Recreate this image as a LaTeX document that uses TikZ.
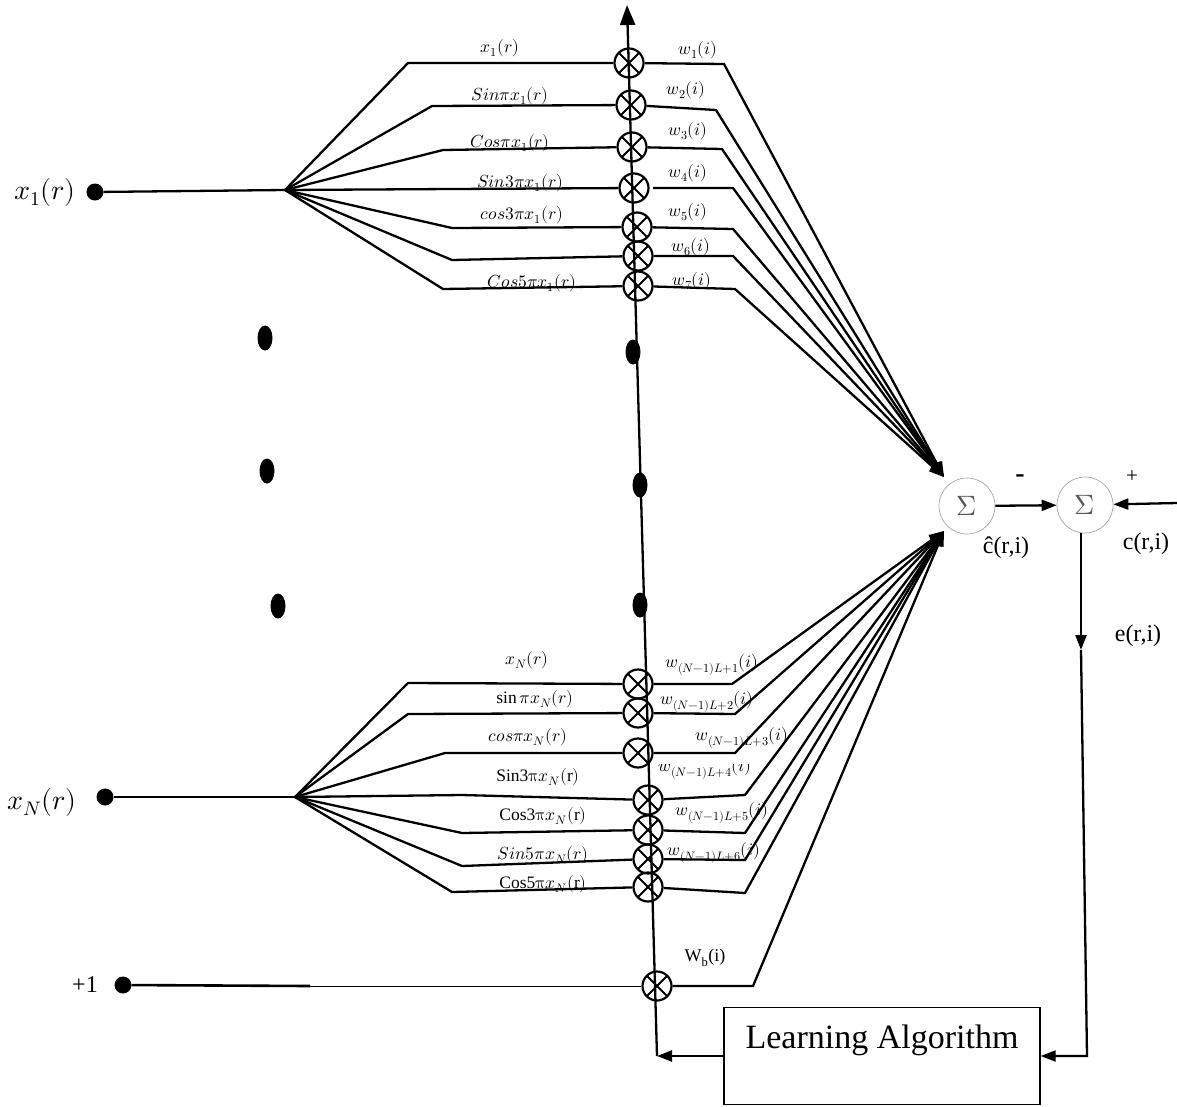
\documentclass[tikz,border=0pt]{standalone}
\usepackage{fontspec}
\usepackage{unicode-math}
\setmainfont{Liberation Serif}
\setmathfont{Latin Modern Math}
\usetikzlibrary{arrows.meta,shapes.geometric}
\begin{document}
\begin{tikzpicture}[x=1pt,y=-1pt,
  wire/.style={line width=2.3pt},
  arr/.style={line width=2.3pt,-{Triangle[length=15pt,width=11pt]}},
  mult/.style={circle,draw,line width=2.2pt,minimum size=29pt,inner sep=0pt,
    path picture={\draw[line width=2pt] (path picture bounding box.north west)--(path picture bounding box.south east) (path picture bounding box.north east)--(path picture bounding box.south west);}},
  sumnode/.style={circle,draw=gray!70,line width=0.7pt,minimum size=56pt,inner sep=0pt,text=gray!70!black,font=\fontsize{28}{30}\selectfont},
  dotn/.style={circle,fill=black,minimum size=17pt,inner sep=0pt},
  vdot/.style={ellipse,fill=black,minimum width=15pt,minimum height=25pt,inner sep=0pt},
  lab/.style={font=\fontsize{17.5}{19}\selectfont,inner sep=0pt},
  biglab/.style={font=\fontsize{28}{32}\selectfont,inner sep=0pt},
  tlab/.style={font=\fontsize{24}{26}\selectfont,inner sep=0pt},
]
\useasboundingbox (0,0) rectangle (1177,1106);

% inputs
\node[dotn] (d1) at (95,192) {};
\node[dotn] (d2) at (105,797) {};
\node[dotn] (d3) at (123,985) {};
\node[biglab] (lx1) at (45,192) {$x_1(r)$};
\node[biglab] (lxN) at (42,802) {$x_N(r)$};
\node[tlab] (lp1) at (85,985) {+1};
\coordinate (f1) at (285,190);
\coordinate (f2) at (295,797);
\coordinate (pb) at (310,986);

% vertical ellipsis dots
\node[vdot] (vd1) at (265,338) {};
\node[vdot] (vd2) at (267,471) {};
\node[vdot] (vd3) at (278,606) {};
\node[vdot] (vd4) at (633,352) {};
\node[vdot] (vd5) at (640,485) {};
\node[vdot] (vd6) at (640,605) {};

% multipliers
\node[mult] (m1) at (629,63) {};
\node[mult] (m2) at (631,105) {};
\node[mult] (m3) at (632,147) {};
\node[mult] (m4) at (634,188) {};
\node[mult] (m5) at (637,227) {};
\node[mult] (m6) at (638,256) {};
\node[mult] (m7) at (638,286) {};
\node[mult] (n1) at (638,684) {};
\node[mult] (n2) at (638,713) {};
\node[mult] (n3) at (638,753) {};
\node[mult] (n4) at (648,800) {};
\node[mult] (n5) at (648,830) {};
\node[mult] (n6) at (648,859) {};
\node[mult] (n7) at (648,887) {};
\node[mult] (mb) at (657,986) {};

% main vertical line
\coordinate (top) at (627,5);
\coordinate (bot) at (657,1056);
\draw[line width=2.3pt,-{Triangle[length=20pt,width=15pt]}] (bot) -- (top);

% summing junctions
\node[sumnode] (s1) at (967,506) {$\Sigma$};
\node[sumnode] (s2) at (1085,505) {$\Sigma$};
\coordinate (tT) at (944,477);
\coordinate (tB) at (944,531);

% input wires
\draw[wire] (d1) -- (f1);
\draw[wire] (d2) -- (f2);
\draw[line width=2.6pt] (d3) -- (pb);
\draw[line width=1pt] (pb) -- (mb);

% top fan
\draw[wire] (f1) -- (408,63) -- (m1);
\draw[wire] (f1) -- (432,106) -- (m2);
\draw[wire] (f1) -- (443,150) -- (m3);
\draw[wire] (f1) -- (452,189) -- (m4);
\draw[wire] (f1) -- (452,228) -- (m5);
\draw[wire] (f1) -- (452,260) -- (m6);
\draw[wire] (f1) -- (443,289) -- (m7);

% bottom fan
\draw[wire] (f2) -- (408,683) -- (n1);
\draw[wire] (f2) -- (408,714) -- (n2);
\draw[wire] (f2) -- (445,753) -- (n3);
\draw[wire] (f2) -- (462,795) -- (n4);
\draw[wire] (f2) -- (462,833) -- (n5);
\draw[wire] (f2) -- (462,866) -- (n6);
\draw[wire] (f2) -- (452,892) -- (n7);

% weight lines top
\draw[arr] (m1) -- (724,64) -- (tT);
\draw[arr] (m2) -- (716,110) -- (tT);
\draw[arr] (m3) -- (722,149) -- (tT);
\draw[arr] (653,188) -- (733,188) -- (tT);
\draw[arr] (m5) -- (733,229) -- (tT);
\draw[arr] (m6) -- (733,256) -- (tT);
\draw[arr] (m7) -- (735,289) -- (tT);

% weight lines bottom
\draw[arr] (n1) -- (732,684) -- (tB);
\draw[arr] (n2) -- (735,714) -- (tB);
\draw[arr] (n3) -- (735,753) -- (tB);
\draw[arr] (n4) -- (745,795) -- (tB);
\draw[arr] (n5) -- (745,833) -- (tB);
\draw[arr] (n6) -- (745,860) -- (tB);
\draw[arr] (n7) -- (745,893) -- (tB);
\draw[arr] (mb) -- (753,986) -- (tB);

% top fan labels
\node[lab] (a1) at (500,48) {$x_1(r)$};
\node[lab] (a2) at (510,96) {$Sin\pi x_1(r)$};
\node[lab] (a3) at (510,143) {$Cos\pi x_1(r)$};
\node[lab] (a4) at (520,183) {$Sin3\pi x_1(r)$};
\node[lab] (a5) at (522,215) {$cos3\pi x_1(r)$};
\node[lab] (a7) at (532,283) {$Cos5\pi x_1(r)$};
% bottom fan labels
\node[lab] (b1) at (527,660) {$x_N(r)$};
\node[lab] (b2) at (535,699) {$\sin\pi x_N(r)$};
\node[lab] (b3) at (528,737) {$cos\pi x_N(r)$};
\node[lab] (b4) at (538,777) {$\mathrm{Sin3}\symup{\pi} x_N(\mathrm{r})$};
\node[lab] (b5) at (543,816) {$\mathrm{Cos3}\symup{\pi} x_N(\mathrm{r})$};
\node[lab] (b6) at (543,855) {$Sin5\pi x_N(r)$};
\node[lab] (b7) at (543,884) {$\mathrm{Cos5}\symup{\pi} x_N(\mathrm{r})$};

% weight labels top
\node[lab] (w1) at (698,50) {$w_1(i)$};
\node[lab] (w2) at (686,90) {$w_2(i)$};
\node[lab] (w3) at (688,131) {$w_3(i)$};
\node[lab] (w4) at (688,173) {$w_4(i)$};
\node[lab] (w5) at (688,212) {$w_5(i)$};
\node[lab] (w6) at (691,247) {$w_6(i)$};
\node[lab] (w7) at (692,281) {$w_7(i)$};
% weight labels bottom
\node[lab] (v1) at (712,665) {$w_{(N-1)L+1}(i)$};
\node[lab] (v2) at (707,702) {$w_{(N-1)L+2}(i)$};
\node[lab] (v3) at (742,738) {$w_{(N-1)L+3}(i)$};
\begin{scope}
\clip (650,764) rectangle (760,778);
\node[lab] (v4) at (705,769) {$w_{(N-1)L+4}(i)$};
\end{scope}
\node[lab] (v5) at (722,813) {$w_{(N-1)L+5}(i)$};
\node[lab] (v6) at (714,853) {$w_{(N-1)L+6}(i)$};
\node[font=\fontsize{18}{20}\selectfont,inner sep=0pt] (wb) at (705,958) {W\textsubscript{b}(i)};

% error section
\draw[arr] (s1) -- (s2);
\coordinate (cin) at (1177,503);
\draw[arr] (cin) -- (s2);
\node[font=\fontsize{28}{30}\selectfont\bfseries,inner sep=0pt] (minus) at (1020,479) {-};
\node[font=\fontsize{21}{22}\selectfont,inner sep=0pt] (plus) at (1132,477) {+};
\node[tlab] (chat) at (1006,548) {\^{c}(r,i)};
\node[tlab] (cri) at (1146,544) {c(r,i)};
\node[tlab] (eri) at (1138,636) {e(r,i)};

\node[draw,line width=1.4pt,minimum width=316pt,minimum height=97pt,inner sep=0pt,
  text height=24pt,text depth=40pt,font=\fontsize{34}{38}\selectfont] (box) at (882,1056) {Learning Algorithm};

\coordinate (ec) at (1081,650);
\coordinate (eb) at (1087,1056);
\draw[arr] (s2.south -| ec) -- (ec);
\draw[arr] (ec) -- (eb) -- (box.east);
\draw[arr] (box.west) -- (bot);
\end{tikzpicture}
\end{document}
